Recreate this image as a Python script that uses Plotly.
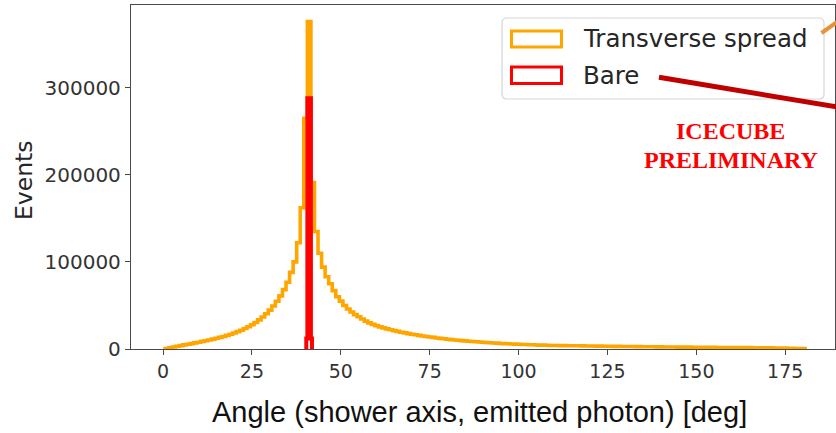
import numpy as np
import plotly.graph_objects as go

# ---- data -----------------------------------------------------------------
# Angle between shower axis and emitted photon, 1-degree bins
BIN_START = 0.6
BIN_WIDTH = 1.0
TRANSVERSE_COUNTS = [
    600, 1400, 2300, 3100, 3900, 4700, 5400, 6200, 7000, 7800,
    8700, 9500, 10400, 11300, 12300, 13300, 14400, 15600, 16900, 18300,
    19900, 21600, 23500, 25600, 27900, 30500, 33400, 36700, 40400, 44600,
    49400, 54800, 61000, 68200, 76600, 88000, 100000, 122000, 162000, 265000,
    376000, 191000, 135000, 110000, 94000, 83000, 75000, 67000, 60000, 55000,
    50000, 46000, 42500, 39500, 37000, 34500, 32000, 30000, 28300, 26800,
    25400, 24200, 23100, 22100, 21100, 20200, 19300, 18500, 17700, 17000,
    16300, 15600, 15000, 14400, 13800, 13300, 12700, 12200, 11700, 11200,
    10800, 10400, 10000, 9600, 9300, 8900, 8600, 8300, 8000, 7700,
    7400, 7200, 6900, 6700, 6400, 6200, 6000, 5800, 5600, 5400,
    5200, 5100, 4900, 4800, 4600, 4500, 4400, 4300, 4100, 4000,
    3950, 3900, 3850, 3800, 3750, 3700, 3650, 3600, 3500, 3450,
    3400, 3350, 3300, 3200, 3150, 3100, 3050, 3000, 2950, 2900,
    2850, 2800, 2750, 2700, 2650, 2600, 2550, 2500, 2450, 2400,
    2350, 2300, 2300, 2250, 2200, 2150, 2100, 2100, 2050, 2000,
    1950, 1950, 1900, 1850, 1850, 1800, 1750, 1750, 1700, 1700,
    1650, 1600, 1600, 1550, 1550, 1500, 1500, 1450, 1400, 1350,
    1300, 1200, 1150, 1050, 950, 850, 750, 650, 550, 400,
]
BARE_EDGES = [40.3, 40.6, 41.6, 41.9]
BARE_COUNTS = [12000, 288000, 12000]

SERIES_NAMES = ["Transverse spread", "Bare"]
X_TICKS = [0, 25, 50, 75, 100, 125, 150, 175]
Y_TICKS = [0, 100000, 200000, 300000]
X_TITLE = "Angle (shower axis, emitted photon) [deg]"
Y_TITLE = "Events"
STAMP_LINES = ["ICECUBE", "PRELIMINARY"]

ORANGE = "#ffa500"
RED = "#ff0000"

# ---- geometry ---------------------------------------------------------------
W, H = 836, 433
ML, MR, MT, MB = 131, 1, 5, 84
PW, PH = W - ML - MR, H - MT - MB


def px(x):
    """page pixel x -> paper fraction"""
    return (x - ML) / PW


def py(y):
    """page pixel y (from top) -> paper fraction"""
    return (H - MB - y) / PH


def step_xy(edges, counts):
    """outline of a step histogram (no bottom edge)"""
    edges = np.asarray(edges, dtype=float)
    counts = np.asarray(counts, dtype=float)
    x = np.concatenate([[edges[0]], edges])
    y = np.concatenate([[0.0], counts, [0.0]])
    return x, y


orange_edges = BIN_START + BIN_WIDTH * np.arange(len(TRANSVERSE_COUNTS) + 1)

fig = go.Figure()
for name, edges, counts, color, lw in [
    (SERIES_NAMES[0], orange_edges, TRANSVERSE_COUNTS, ORANGE, 3.6),
    (SERIES_NAMES[1], BARE_EDGES, BARE_COUNTS, RED, 4.0),
]:
    sx, sy = step_xy(edges, counts)
    fig.add_trace(go.Scatter(
        x=sx, y=sy, mode="lines", name=name,
        line=dict(color=color, width=lw, shape="hv"),
        showlegend=False, hoverinfo="skip",
    ))

axis_common = dict(
    showline=True, mirror=True, linecolor="#4a4a4a", linewidth=1.3,
    ticks="outside", ticklen=5, tickwidth=1.3, tickcolor="#4a4a4a",
    showgrid=False, zeroline=False,
)
fig.update_xaxes(
    range=[-9, 189], tickvals=X_TICKS, ticktext=[str(v) for v in X_TICKS],
    tickfont=dict(family="DejaVu Sans", size=19, color="#333333"),
    **axis_common,
)
fig.update_yaxes(
    range=[0, 395000], tickvals=Y_TICKS, ticktext=[str(v) for v in Y_TICKS],
    tickfont=dict(family="DejaVu Sans", size=20, color="#333333"),
    **axis_common,
)

shapes = []
annotations = []

# legend frame with rounded corners
x0, x1, y0, y1 = px(502), px(824), py(99), py(18)
rx, ry = 5 / PW, 5 / PH
path = (f"M {x0+rx},{y0} L {x1-rx},{y0} Q {x1},{y0} {x1},{y0+ry} "
        f"L {x1},{y1-ry} Q {x1},{y1} {x1-rx},{y1} L {x0+rx},{y1} "
        f"Q {x0},{y1} {x0},{y1-ry} L {x0},{y0+ry} Q {x0},{y0} {x0+rx},{y0} Z")
shapes.append(dict(type="path", path=path, xref="paper", yref="paper",
                   line=dict(color="#d6d6d6", width=1.2),
                   fillcolor="rgba(255,255,255,0.85)", layer="above"))

# legend entries: outlined patches + labels
for (ytop, ybot, ytext), name, color in zip(
        [(31, 47, 38.5), (67, 83.5, 75.5)], SERIES_NAMES, [ORANGE, RED]):
    shapes.append(dict(type="rect", xref="paper", yref="paper",
                       x0=px(511.5), x1=px(561.5), y0=py(ybot), y1=py(ytop),
                       line=dict(color=color, width=3), fillcolor="rgba(0,0,0,0)",
                       layer="above"))
    annotations.append(dict(text=name, xref="paper", yref="paper",
                            x=px(581), y=py(ytext), xanchor="left", yanchor="middle",
                            showarrow=False,
                            font=dict(family="DejaVu Sans", size=24.5, color="#262626")))

# callout lines running off to the right
shapes.append(dict(type="line", xref="paper", yref="paper",
                   x0=px(821.5), y0=py(33), x1=px(840), y1=py(20),
                   line=dict(color="#e8923a", width=4), layer="above"))
shapes.append(dict(type="line", xref="paper", yref="paper",
                   x0=px(659), y0=py(77.3), x1=px(840), y1=py(107.5),
                   line=dict(color="#c00000", width=5), layer="above"))

# preliminary stamp
for text, yc in zip(STAMP_LINES, [130.5, 159.5]):
    annotations.append(dict(text=f"<b>{text}</b>", xref="paper", yref="paper",
                            x=px(730.5), y=py(yc), xanchor="center", yanchor="middle",
                            showarrow=False,
                            font=dict(family="Liberation Serif", size=24, color=RED)))

# axis titles
annotations.append(dict(text=Y_TITLE, xref="paper", yref="paper",
                        x=px(24), y=py(180), xanchor="center", yanchor="middle",
                        textangle=-90, showarrow=False,
                        font=dict(family="DejaVu Sans", size=23.5, color="#262626")))
annotations.append(dict(text=X_TITLE, xref="paper", yref="paper",
                        x=px(479.5), y=py(412), xanchor="center", yanchor="middle",
                        showarrow=False,
                        font=dict(family="Liberation Sans", size=29, color="#111111")))

fig.update_layout(
    width=W, height=H,
    margin=dict(l=ML, r=MR, t=MT, b=MB),
    paper_bgcolor="white", plot_bgcolor="white",
    shapes=shapes, annotations=annotations,
    showlegend=False,
)

fig.write_html("out.html")
